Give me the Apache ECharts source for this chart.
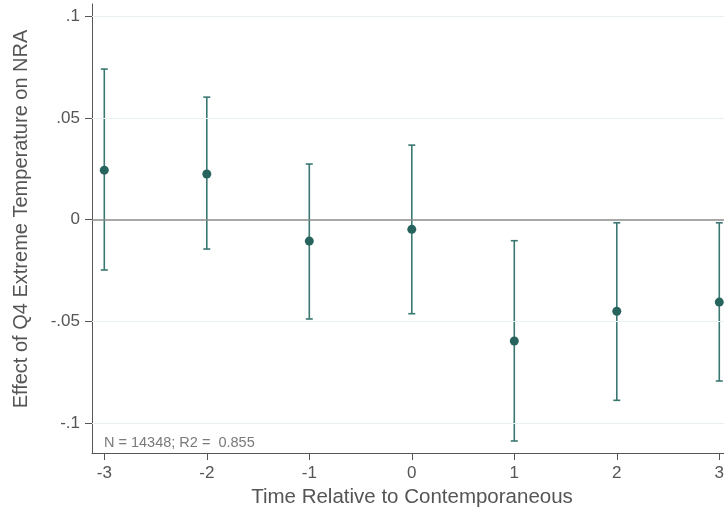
<!DOCTYPE html>
<html>
<head>
<meta charset="utf-8">
<script src="https://cdn.jsdelivr.net/npm/echarts@6/dist/echarts.min.js"></script>
<style>
  html, body { margin: 0; padding: 0; background: #fff; }
  #chart { width: 724px; height: 513px; }
</style>
</head>
<body>
<div id="chart"></div>
<script>
// Event-time periods and estimated effects with 95% confidence bounds
const periods = [-3, -2, -1, 0, 1, 2, 3];
const estimates = [0.0243, 0.0224, -0.0106, -0.0048, -0.0597, -0.0451, -0.0406];
const upperCI = [0.0740, 0.0602, 0.0273, 0.0366, -0.0104, -0.0016, -0.0016];
const lowerCI = [-0.0248, -0.0145, -0.0489, -0.0463, -0.1089, -0.0889, -0.0794];
const yTicks = [-0.1, -0.05, 0, 0.05, 0.1];
const xTicks = [-3, -2, -1, 0, 1, 2, 3];
const xTitle = 'Time Relative to Contemporaneous';
const yTitle = 'Effect of Q4 Extreme Temperature on NRA';
const noteText = 'N = 14348; R2 =  0.855';

const teal = '#28645e';
const barColor = '#3a7771';
const textColor = '#555555';
const fontFamily = '"Liberation Sans", Arial, Helvetica, sans-serif';

const ciData = periods.map((p, i) => [p, lowerCI[i], upperCI[i]]);
const pointData = periods.map((p, i) => [p, estimates[i]]);

function fmtY(v) {
  if (Math.abs(v) < 1e-9) return '0';
  let s = String(+v.toFixed(3));
  return s.replace(/^(-?)0\./, '$1.');
}

const chart = echarts.init(document.getElementById('chart'), null, { renderer: 'canvas' });
chart.setOption({
  animation: false,
  backgroundColor: '#ffffff',
  grid: { left: 92, right: 0, top: 4, bottom: 60, containLabel: false, outerBoundsMode: 'none' },
  xAxis: {
    type: 'value',
    min: -3.12,
    max: 3.046,
    axisLine: { show: true, onZero: false, lineStyle: { color: '#555', width: 1 } },
    axisTick: { show: true, length: 7, customValues: xTicks, lineStyle: { color: '#555' } },
    axisLabel: { customValues: xTicks, color: textColor, fontSize: 17, fontFamily, margin: 12,
      formatter: v => String(Math.round(v)) },
    splitLine: { show: false }
  },
  yAxis: {
    type: 'value',
    min: -0.1148,
    max: 0.106,
    axisLine: { show: true, onZero: false, lineStyle: { color: '#555', width: 1 } },
    axisTick: { show: true, length: 7, customValues: yTicks, lineStyle: { color: '#555' } },
    axisLabel: { customValues: yTicks, color: textColor, fontSize: 17, fontFamily, margin: 12,
      formatter: fmtY },
    splitLine: { show: false }
  },
  series: [
    {
      // light horizontal guides at the labelled ticks, darker reference at zero
      type: 'line',
      data: [],
      silent: true,
      markLine: {
        symbol: 'none',
        silent: true,
        label: { show: false },
        data: yTicks.map(v => ({
          yAxis: v,
          lineStyle: v === 0
            ? { color: '#8a8a8a', width: 1.5, type: 'solid' }
            : { color: '#e9f0f2', width: 1, type: 'solid' }
        }))
      }
    },
    {
      type: 'custom',
      data: ciData,
      z: 3,
      renderItem: function (params, api) {
        const x = api.value(0);
        const lo = api.coord([x, api.value(1)]);
        const hi = api.coord([x, api.value(2)]);
        const cap = 3.5;
        const style = { stroke: barColor, lineWidth: 1.6 };
        return {
          type: 'group',
          children: [
            { type: 'line', shape: { x1: lo[0], y1: lo[1], x2: hi[0], y2: hi[1] }, style },
            { type: 'line', shape: { x1: hi[0] - cap, y1: hi[1], x2: hi[0] + cap, y2: hi[1] }, style },
            { type: 'line', shape: { x1: lo[0] - cap, y1: lo[1], x2: lo[0] + cap, y2: lo[1] }, style }
          ]
        };
      }
    },
    {
      type: 'scatter',
      data: pointData,
      z: 4,
      symbol: 'circle',
      symbolSize: 9,
      itemStyle: { color: teal, opacity: 1 }
    }
  ],
  graphic: [
    {
      type: 'text',
      x: 412,
      y: 497,
      style: { text: xTitle, fill: textColor, fontSize: 20.5, fontFamily,
        align: 'center', verticalAlign: 'middle' }
    },
    {
      type: 'text',
      x: 21,
      y: 219,
      rotation: Math.PI / 2,
      style: { text: yTitle, fill: textColor, fontSize: 20, fontFamily,
        align: 'center', verticalAlign: 'middle' }
    },
    {
      type: 'text',
      left: 104,
      top: 435,
      style: { text: noteText, fill: '#7a7a7a', fontSize: 14.5, fontFamily }
    }
  ]
});
</script>
</body>
</html>
